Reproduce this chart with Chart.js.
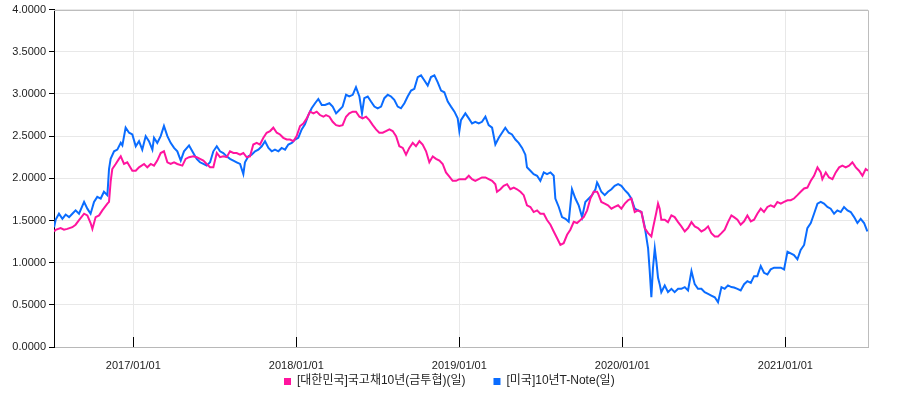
<!DOCTYPE html>
<html>
<head>
<meta charset="utf-8">
<script src="https://cdn.jsdelivr.net/npm/chart.js@4.4.0/dist/chart.umd.min.js"></script>
<style>
  html, body { margin: 0; padding: 0; background: #fff; }
</style>
</head>
<body>
<canvas id="yieldChart" width="898" height="398"></canvas>
<script>
// === DATA: dates as decimal years, yields in % ===
const seriesNames = ["[대한민국]국고채10년(금투협)(일)", "[미국]10년T-Note(일)"];

const krDates = [
  2016.514, 2016.524, 2016.554, 2016.575, 2016.595, 2016.626, 2016.646, 2016.667, 2016.698, 2016.718,
  2016.738, 2016.749, 2016.769, 2016.790, 2016.810, 2016.841, 2016.851, 2016.861, 2016.871, 2016.892,
  2016.912, 2016.923, 2016.943, 2016.963, 2016.994, 2017.015, 2017.035, 2017.066, 2017.086, 2017.107,
  2017.127, 2017.147, 2017.168, 2017.188, 2017.209, 2017.229, 2017.250, 2017.270, 2017.301, 2017.321,
  2017.342,
  2017.368, 2017.389, 2017.409, 2017.430, 2017.450, 2017.471, 2017.491, 2017.512, 2017.532, 2017.552,
  2017.573, 2017.593, 2017.614, 2017.634, 2017.655, 2017.675, 2017.695, 2017.716, 2017.736, 2017.757,
  2017.777, 2017.798, 2017.818, 2017.839, 2017.859, 2017.880, 2017.900, 2017.920, 2017.941, 2017.961,
  2017.982, 2018.002, 2018.023, 2018.043, 2018.064, 2018.084, 2018.105, 2018.125, 2018.145, 2018.166,
  2018.182, 2018.203, 2018.223, 2018.244, 2018.264, 2018.284, 2018.305, 2018.325, 2018.346, 2018.366,
  2018.387, 2018.407, 2018.428, 2018.448, 2018.469, 2018.489, 2018.509, 2018.530, 2018.550, 2018.571,
  2018.591, 2018.612, 2018.632, 2018.653, 2018.673, 2018.693, 2018.714, 2018.734, 2018.755, 2018.775,
  2018.796, 2018.816, 2018.837, 2018.857, 2018.878, 2018.898, 2018.918, 2018.939, 2018.959, 2018.980,
  2019.000,
  2019.037, 2019.058, 2019.078, 2019.098, 2019.119, 2019.139, 2019.160, 2019.180, 2019.201, 2019.221,
  2019.231, 2019.252, 2019.272, 2019.293, 2019.313, 2019.334, 2019.354, 2019.375, 2019.395, 2019.415,
  2019.436, 2019.456, 2019.477, 2019.497, 2019.518, 2019.538, 2019.559, 2019.579, 2019.600, 2019.620,
  2019.640, 2019.661, 2019.681, 2019.702, 2019.722, 2019.743, 2019.763, 2019.784, 2019.804, 2019.824,
  2019.845,
  2019.851, 2019.871, 2019.892, 2019.912, 2019.933, 2019.953, 2019.974, 2019.994, 2020.015, 2020.035,
  2020.055, 2020.076, 2020.096, 2020.117, 2020.137, 2020.158, 2020.178, 2020.188, 2020.209, 2020.219,
  2020.229, 2020.239, 2020.260, 2020.280, 2020.301, 2020.321, 2020.342, 2020.362, 2020.383, 2020.403,
  2020.424, 2020.444, 2020.464, 2020.485, 2020.505, 2020.526, 2020.546, 2020.567, 2020.587, 2020.608,
  2020.628, 2020.648, 2020.669,
  2020.685, 2020.706, 2020.726, 2020.747, 2020.767, 2020.788, 2020.808, 2020.828, 2020.849, 2020.869,
  2020.890, 2020.910, 2020.931, 2020.951, 2020.972, 2020.992, 2021.013, 2021.033, 2021.053, 2021.074,
  2021.094, 2021.115, 2021.135, 2021.156, 2021.176, 2021.197, 2021.217, 2021.227, 2021.248, 2021.268,
  2021.289, 2021.309, 2021.330, 2021.350, 2021.370, 2021.391, 2021.411, 2021.432, 2021.452, 2021.473,
  2021.493, 2021.507
];
const krYields = [
  1.37, 1.39, 1.41, 1.39, 1.40, 1.42, 1.45, 1.505, 1.58, 1.56,
  1.47, 1.40, 1.54, 1.56, 1.62, 1.70, 1.72, 1.96, 2.11, 2.17,
  2.23, 2.26, 2.17, 2.19, 2.09, 2.09, 2.13, 2.17, 2.13, 2.17,
  2.15, 2.21, 2.30, 2.32, 2.19, 2.17, 2.19, 2.17, 2.15, 2.23,
  2.25,
  2.26, 2.25, 2.23, 2.21, 2.17, 2.13, 2.13, 2.30, 2.25, 2.26,
  2.25, 2.32, 2.30, 2.30, 2.28, 2.30, 2.25, 2.26, 2.40, 2.42,
  2.40, 2.48, 2.54, 2.56, 2.60, 2.54, 2.52, 2.48, 2.46, 2.46,
  2.44, 2.50, 2.62, 2.65, 2.71, 2.79, 2.77, 2.79, 2.75, 2.73,
  2.75, 2.73, 2.67, 2.63, 2.62, 2.63, 2.73, 2.77, 2.79, 2.79,
  2.73, 2.71, 2.73, 2.69, 2.63, 2.58, 2.54, 2.54, 2.56, 2.58,
  2.56, 2.50, 2.38, 2.36, 2.28, 2.36, 2.42, 2.38, 2.44, 2.40,
  2.32, 2.19, 2.26, 2.23, 2.21, 2.17, 2.07, 2.02, 1.97, 1.97,
  1.99,
  1.99, 2.03, 1.99, 1.97, 1.99, 2.01, 2.01, 1.99, 1.97, 1.93,
  1.84, 1.87, 1.91, 1.93, 1.87, 1.89, 1.87, 1.84, 1.80, 1.68,
  1.66, 1.60, 1.62, 1.58, 1.58, 1.505, 1.45, 1.37, 1.29, 1.21,
  1.23, 1.33, 1.39, 1.485, 1.47, 1.505, 1.54, 1.62, 1.76, 1.84,
  1.84,
  1.82, 1.72, 1.70, 1.68, 1.64, 1.66, 1.68, 1.64, 1.70, 1.74,
  1.76, 1.60, 1.62, 1.60, 1.41, 1.35, 1.31, 1.41, 1.60, 1.70,
  1.64, 1.51, 1.51, 1.48, 1.56, 1.54, 1.48, 1.43, 1.37, 1.41,
  1.48, 1.43, 1.41, 1.37, 1.39, 1.43, 1.35, 1.31, 1.31, 1.35,
  1.39, 1.48, 1.56,
  1.54, 1.51, 1.45, 1.49, 1.56, 1.49, 1.51, 1.58, 1.64, 1.60,
  1.66, 1.68, 1.66, 1.72, 1.70, 1.72, 1.74, 1.74, 1.76, 1.80,
  1.84, 1.88, 1.89, 1.97, 2.03, 2.13, 2.07, 1.99, 2.07, 2.01,
  1.99, 2.07, 2.13, 2.15, 2.13, 2.15, 2.19, 2.13, 2.09, 2.03,
  2.11, 2.09
];

const usDates = [
  2016.514, 2016.524, 2016.544, 2016.565, 2016.585, 2016.606, 2016.626, 2016.646, 2016.667, 2016.698,
  2016.718, 2016.738, 2016.759, 2016.779, 2016.800, 2016.820, 2016.841, 2016.851, 2016.861, 2016.882,
  2016.902, 2016.923, 2016.933, 2016.953, 2016.974, 2016.994, 2017.015, 2017.035, 2017.055, 2017.076,
  2017.096, 2017.117, 2017.127, 2017.147, 2017.168, 2017.188, 2017.209, 2017.229, 2017.250, 2017.270,
  2017.291, 2017.311, 2017.342,
  2017.368, 2017.389, 2017.409, 2017.430, 2017.450, 2017.471, 2017.491, 2017.512, 2017.532, 2017.552,
  2017.573, 2017.593, 2017.614, 2017.634, 2017.655, 2017.675, 2017.685, 2017.706, 2017.726, 2017.747,
  2017.767, 2017.788, 2017.808, 2017.829, 2017.849, 2017.869, 2017.890, 2017.910, 2017.931, 2017.951,
  2017.972, 2017.992, 2018.012, 2018.033, 2018.053, 2018.074, 2018.094, 2018.115, 2018.135, 2018.156,
  2018.176,
  2018.203, 2018.223, 2018.244, 2018.264, 2018.284, 2018.305, 2018.325, 2018.346, 2018.366, 2018.387,
  2018.403, 2018.417, 2018.438, 2018.458, 2018.479, 2018.499, 2018.520, 2018.540, 2018.561, 2018.581,
  2018.601, 2018.622, 2018.642, 2018.663, 2018.683, 2018.704, 2018.724, 2018.745, 2018.765, 2018.786,
  2018.806, 2018.826, 2018.847, 2018.867, 2018.888, 2018.908, 2018.929, 2018.949, 2018.970, 2018.990,
  2019.000, 2019.010,
  2019.037, 2019.058, 2019.078, 2019.098, 2019.119, 2019.139, 2019.160, 2019.180, 2019.201, 2019.221,
  2019.242, 2019.262, 2019.282, 2019.303, 2019.323, 2019.344, 2019.364, 2019.385, 2019.405, 2019.415,
  2019.436, 2019.456, 2019.477, 2019.497, 2019.518, 2019.538, 2019.559, 2019.579, 2019.589, 2019.610,
  2019.630, 2019.651, 2019.671, 2019.691, 2019.712, 2019.732, 2019.753, 2019.773, 2019.794, 2019.814,
  2019.835, 2019.845,
  2019.851, 2019.871, 2019.892, 2019.912, 2019.933, 2019.953, 2019.974, 2019.994, 2020.015, 2020.035,
  2020.055, 2020.076, 2020.096, 2020.117, 2020.137, 2020.158, 2020.168, 2020.178, 2020.188, 2020.199,
  2020.209, 2020.219, 2020.229, 2020.239, 2020.260, 2020.280, 2020.301, 2020.321, 2020.342, 2020.362,
  2020.383, 2020.403, 2020.424, 2020.444, 2020.464, 2020.485, 2020.505, 2020.526, 2020.546, 2020.567,
  2020.587, 2020.608, 2020.628, 2020.648, 2020.669,
  2020.685, 2020.706, 2020.726, 2020.747, 2020.767, 2020.788, 2020.808, 2020.828, 2020.849, 2020.869,
  2020.890, 2020.910, 2020.931, 2020.951, 2020.972, 2020.992, 2021.013, 2021.033, 2021.053, 2021.074,
  2021.094, 2021.115, 2021.135, 2021.156, 2021.176, 2021.197, 2021.217, 2021.237, 2021.258, 2021.278,
  2021.299, 2021.319, 2021.340, 2021.360, 2021.381, 2021.401, 2021.422, 2021.442, 2021.462, 2021.483,
  2021.503
];
const usYields = [
  1.42, 1.51, 1.58, 1.52, 1.57, 1.54, 1.58, 1.62, 1.58, 1.72,
  1.64, 1.58, 1.72, 1.78, 1.76, 1.84, 1.80, 2.11, 2.23, 2.32,
  2.34, 2.42, 2.39, 2.60, 2.54, 2.52, 2.38, 2.44, 2.34, 2.50,
  2.44, 2.34, 2.48, 2.42, 2.50, 2.62, 2.50, 2.42, 2.36, 2.32,
  2.21, 2.32, 2.39,
  2.30, 2.23, 2.19, 2.17, 2.15, 2.19, 2.32, 2.38, 2.32, 2.30,
  2.26, 2.23, 2.21, 2.19, 2.17, 2.05, 2.19, 2.26, 2.28, 2.32,
  2.34, 2.38, 2.44, 2.36, 2.32, 2.34, 2.32, 2.36, 2.34, 2.40,
  2.42, 2.46, 2.48, 2.58, 2.64, 2.75, 2.83, 2.89, 2.94, 2.87,
  2.87,
  2.89, 2.85, 2.77, 2.81, 2.85, 2.99, 2.97, 2.99, 3.08, 2.97,
  2.77, 2.95, 2.97, 2.91, 2.85, 2.83, 2.85, 2.95, 2.99, 2.97,
  2.93, 2.85, 2.83, 2.89, 2.97, 3.04, 3.06, 3.20, 3.22, 3.16,
  3.10, 3.20, 3.22, 3.14, 3.04, 3.02, 2.91, 2.85, 2.79, 2.71,
  2.56, 2.69,
  2.77, 2.71, 2.65, 2.67, 2.65, 2.67, 2.73, 2.63, 2.60, 2.40,
  2.48, 2.54, 2.60, 2.54, 2.52, 2.46, 2.42, 2.36, 2.28, 2.13,
  2.09, 2.05, 2.03, 1.97, 2.07, 2.05, 2.07, 2.03, 1.76, 1.66,
  1.54, 1.52, 1.485, 1.87, 1.76, 1.68, 1.54, 1.72, 1.76, 1.80,
  1.87, 1.95,
  1.93, 1.84, 1.80, 1.84, 1.87, 1.91, 1.93, 1.91, 1.86, 1.82,
  1.76, 1.64, 1.62, 1.60, 1.43, 1.17, 0.90, 0.59, 0.94, 1.17,
  1.01, 0.82, 0.745, 0.65, 0.73, 0.65, 0.69, 0.65, 0.69, 0.69,
  0.71, 0.67, 0.90, 0.745, 0.69, 0.69, 0.65, 0.63, 0.61, 0.59,
  0.53, 0.71, 0.69, 0.73, 0.71,
  0.705, 0.69, 0.67, 0.745, 0.78, 0.76, 0.84, 0.84, 0.96, 0.88,
  0.86, 0.92, 0.94, 0.94, 0.94, 0.92, 1.13, 1.11, 1.09, 1.04,
  1.15, 1.21, 1.41, 1.47, 1.58, 1.70, 1.72, 1.70, 1.66, 1.64,
  1.58, 1.62, 1.60, 1.66, 1.62, 1.60, 1.54, 1.47, 1.52, 1.47,
  1.37
];

// === Axes ===
const xStart = 2016.5135;
const xEnd = 2021.507;
const xTickValues = [2017, 2018, 2019, 2020, 2021];
const xTickLabels = ["2017/01/01", "2018/01/01", "2019/01/01", "2020/01/01", "2021/01/01"];
const yMin = 0;
const yMax = 4;
const yStep = 0.5;

const seriesColors = ["#ff149e", "#0a6cff"];
const fontFamily = '"Liberation Sans", Arial, "Noto Sans CJK KR", sans-serif';

const toPoints = (dates, values) => dates.map((d, i) => ({ x: d, y: values[i] }));

// === gray top/right border of the plot ===
const plotFrame = {
  id: "plotFrame",
  beforeDatasetsDraw(chart) {
    const { ctx, chartArea: a } = chart;
    ctx.save();
    ctx.strokeStyle = "#bdbdbd";
    ctx.lineWidth = 1;
    ctx.beginPath();
    ctx.moveTo(a.left, Math.round(a.top) + 0.5);
    ctx.lineTo(Math.round(a.right) + 0.5, Math.round(a.top) + 0.5);
    ctx.lineTo(Math.round(a.right) + 0.5, a.bottom);
    ctx.stroke();
    ctx.restore();
  }
};

// === legend centered under the x labels (square marker + text) ===
const bottomLegend = {
  id: "bottomLegend",
  afterDraw(chart, args, opts) {
    const { ctx } = chart;
    const box = 7, gap = 6, itemGap = 28;
    ctx.save();
    ctx.font = `12px ${fontFamily}`;
    ctx.textBaseline = "middle";
    ctx.textAlign = "left";
    const items = chart.data.datasets.map(ds => ({
      text: ds.label,
      color: ds.borderColor,
      w: box + gap + ctx.measureText(ds.label).width
    }));
    const total = items.reduce((s, it) => s + it.w, 0) + itemGap * (items.length - 1);
    let x = Math.round((chart.width - total) / 2);
    const yMid = opts.y;
    items.forEach(it => {
      ctx.fillStyle = it.color;
      ctx.fillRect(x, Math.round(yMid - box / 2), box, box);
      ctx.fillStyle = "#222";
      ctx.fillText(it.text, x + box + gap, yMid);
      x += it.w + itemGap;
    });
    ctx.restore();
  }
};

Chart.defaults.font.family = fontFamily;
Chart.defaults.color = "#222";

new Chart(document.getElementById("yieldChart").getContext("2d"), {
  type: "line",
  data: {
    datasets: seriesNames.map((name, i) => ({
      label: name,
      data: i === 0 ? toPoints(krDates, krYields) : toPoints(usDates, usYields),
      borderColor: seriesColors[i],
      backgroundColor: seriesColors[i],
      borderWidth: 2,
      pointRadius: 0,
      tension: 0
    }))
  },
  options: {
    responsive: false,
    animation: false,
    devicePixelRatio: 1,
    layout: { padding: { left: 0, right: 0, top: 5, bottom: 0 } },
    plugins: {
      tooltip: { enabled: false },
      legend: { display: false },
      bottomLegend: { y: 381 }
    },
    scales: {
      x: {
        type: "linear",
        min: xStart,
        max: xEnd,
        afterFit: (s) => { s.height = 51; },
        afterBuildTicks: (s) => { s.ticks = xTickValues.map(v => ({ value: v })); },
        ticks: {
          autoSkip: false,
          maxRotation: 0,
          padding: 22,
          font: { size: 11 },
          color: "#222",
          callback: (v) => xTickLabels[xTickValues.indexOf(v)]
        },
        grid: { color: "#e8e8e8", tickLength: -10, tickColor: "#000" },
        border: { color: "#b8b8b8" }
      },
      y: {
        min: yMin,
        max: yMax,
        afterFit: (s) => { s.width = 54; },
        ticks: {
          stepSize: yStep,
          padding: 3,
          font: { size: 11 },
          color: "#222",
          callback: (v) => Number(v).toFixed(4)
        },
        grid: { color: "#e8e8e8", tickLength: 5, tickColor: "#000" },
        border: { color: "#000" }
      },
      yRight: {
        position: "right",
        display: true,
        afterFit: (s) => { s.width = 30; },
        ticks: { display: false },
        grid: { display: false },
        border: { display: false }
      }
    }
  },
  plugins: [plotFrame, bottomLegend]
});
</script>
</body>
</html>
